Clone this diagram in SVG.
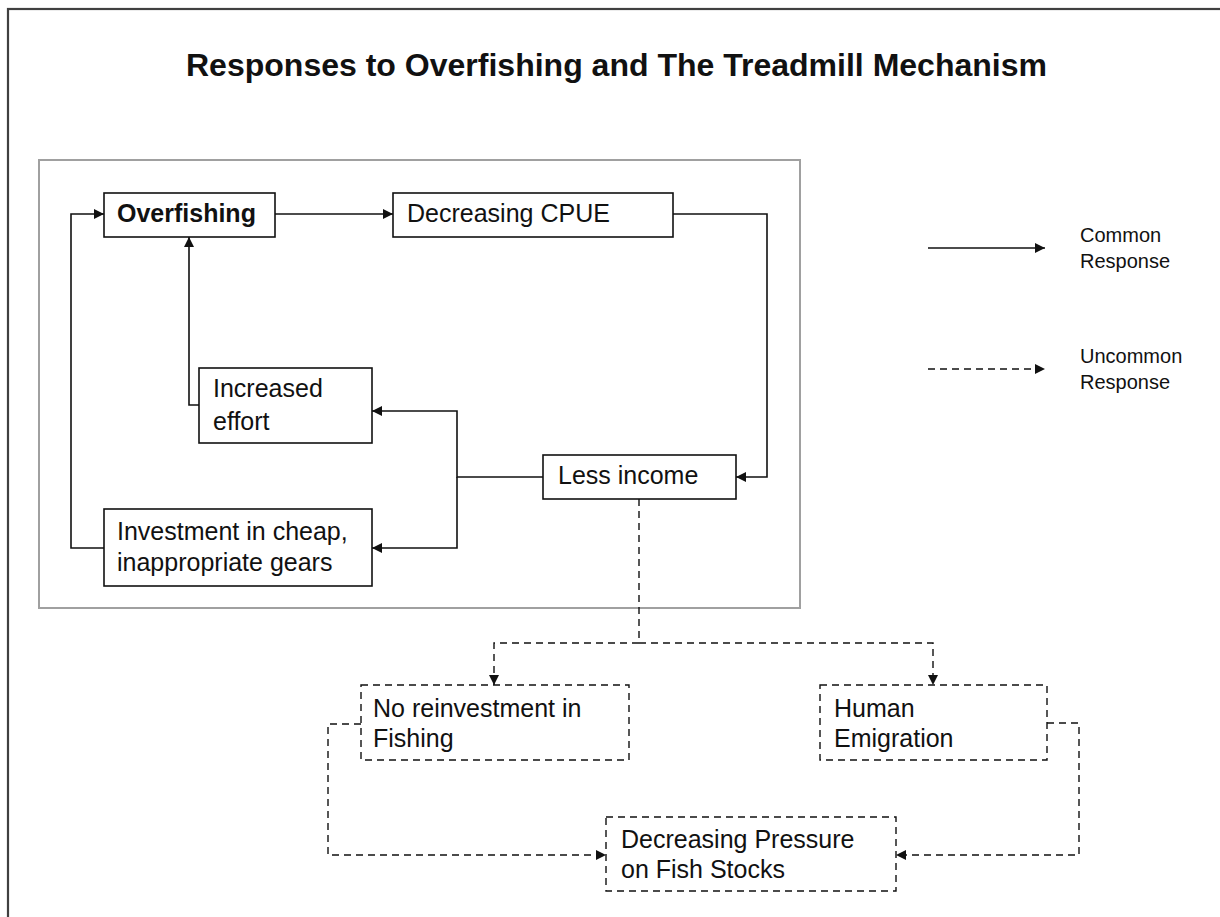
<svg xmlns="http://www.w3.org/2000/svg" width="1220" height="917" viewBox="0 0 1220 917">
<style>
text{font-family:"Liberation Sans",Arial,sans-serif;fill:#111}
.t{font-size:25px}
.lg{font-size:20px}
.box{fill:#fff;stroke:#111;stroke-width:1.6}
.dbox{fill:#fff;stroke:#111;stroke-width:1.4;stroke-dasharray:7 5}
.c{fill:none;stroke:#111;stroke-width:1.6}
.d{fill:none;stroke:#111;stroke-width:1.4;stroke-dasharray:7 5}
</style>
<defs>
<marker id="ah" viewBox="0 0 10 10" refX="10" refY="5" markerWidth="11" markerHeight="10" markerUnits="userSpaceOnUse" orient="auto">
<path d="M0,0 L10,5 L0,10 z" fill="#111"/>
</marker>
</defs>
<rect x="0" y="0" width="1220" height="917" fill="#fff"/>
<rect x="8" y="9" width="1240" height="1000" fill="none" stroke="#404040" stroke-width="2.2"/>
<text x="186" y="76" textLength="861" lengthAdjust="spacingAndGlyphs" style="font-size:31.5px;font-weight:bold">Responses to Overfishing and The Treadmill Mechanism</text>
<rect x="39" y="160" width="761" height="448" fill="none" stroke="#a0a0a0" stroke-width="2"/>

<g id="connectors">
<path class="c" d="M275,214 H393" marker-end="url(#ah)"/>
<path class="c" d="M673,214 H767 V477 H736" marker-end="url(#ah)"/>
<path class="c" d="M543,477 H457 V411 H372" marker-end="url(#ah)"/>
<path class="c" d="M457,477 V548 H372" marker-end="url(#ah)"/>
<path class="c" d="M199,405 H189 V237" marker-end="url(#ah)"/>
<path class="c" d="M104,548 H71 V214 H104" marker-end="url(#ah)"/>
<path class="d" d="M639,499 V643 H494 V685" marker-end="url(#ah)"/>
<path class="d" d="M639,643 H933 V685" marker-end="url(#ah)"/>
<path class="d" d="M361,724 H328 V855 H606" marker-end="url(#ah)"/>
<path class="d" d="M1047,723 H1079 V855 H896" marker-end="url(#ah)"/>
</g>

<g id="overfishing">
<rect class="box" x="104" y="193" width="171" height="44"/>
<text class="t" x="117" y="222" style="font-weight:bold">Overfishing</text>
</g>
<g id="cpue">
<rect class="box" x="393" y="193" width="280" height="44"/>
<text class="t" x="407" y="222">Decreasing CPUE</text>
</g>
<g id="effort">
<rect class="box" x="199" y="368" width="173" height="75"/>
<text class="t" x="213" y="397">Increased</text>
<text class="t" x="213" y="430">effort</text>
</g>
<g id="investment">
<rect class="box" x="104" y="509" width="268" height="77"/>
<text class="t" x="117" y="540">Investment in cheap,</text>
<text class="t" x="117" y="571">inappropriate gears</text>
</g>
<g id="income">
<rect class="box" x="543" y="455" width="193" height="44"/>
<text class="t" x="558" y="484">Less income</text>
</g>
<g id="noreinvest">
<rect class="dbox" x="361" y="685" width="268" height="75"/>
<text class="t" x="373" y="717">No reinvestment in</text>
<text class="t" x="373" y="747">Fishing</text>
</g>
<g id="emigration">
<rect class="dbox" x="820" y="685" width="227" height="75"/>
<text class="t" x="834" y="717">Human</text>
<text class="t" x="834" y="747">Emigration</text>
</g>
<g id="pressure">
<rect class="dbox" x="606" y="817" width="290" height="74"/>
<text class="t" x="621" y="848">Decreasing Pressure</text>
<text class="t" x="621" y="878">on Fish Stocks</text>
</g>

<g id="legend">
<path class="c" d="M928,248 H1045" marker-end="url(#ah)"/>
<path class="d" d="M928,369 H1045" marker-end="url(#ah)"/>
<text class="lg" x="1080" y="242">Common</text>
<text class="lg" x="1080" y="268">Response</text>
<text class="lg" x="1080" y="363">Uncommon</text>
<text class="lg" x="1080" y="389">Response</text>
</g>
</svg>
